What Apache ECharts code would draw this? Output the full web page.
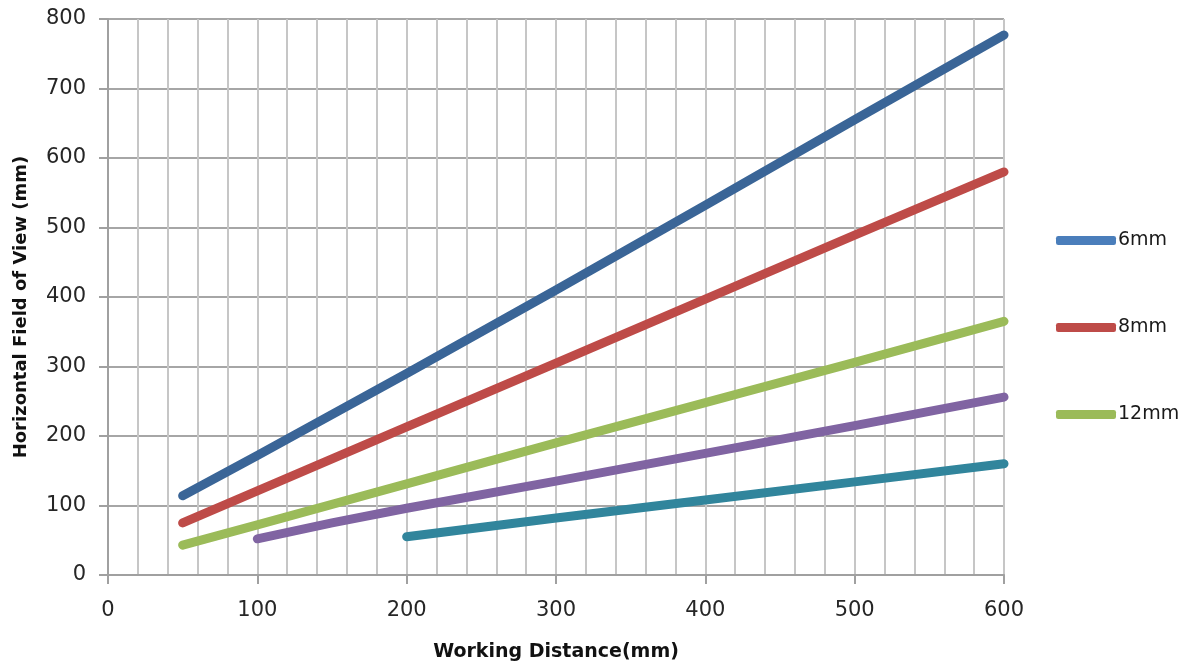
<!DOCTYPE html>
<html>
<head>
<meta charset="utf-8">
<script src="https://cdn.jsdelivr.net/npm/echarts@6/dist/echarts.min.js"></script>
<style>html,body{margin:0;padding:0;background:#fff}#c{width:1197px;height:664px}</style>
</head>
<body>
<div id="c"></div>
<script>
// Working distance (mm) and horizontal field of view (mm) per lens
var wd6 = [50, 100, 200, 300, 400, 500, 600];
var fov6 = [114, 172, 290, 410, 532, 655, 777];
var wd8 = [50, 100, 200, 300, 400, 500, 600];
var fov8 = [75, 121, 213, 305, 397, 489, 580];
var wd12 = [50, 100, 200, 300, 400, 500, 600];
var fov12 = [43, 72, 131, 190, 248, 306, 365];
var wd16 = [100, 150, 200, 300, 400, 500, 600];
var fov16 = [52, 75, 96, 135, 175, 215, 256];
var wd25 = [200, 300, 400, 500, 600];
var fov25 = [55, 82, 108, 134, 160];
var legendNames = ['6mm', '8mm', '12mm'];
var xTitle = 'Working Distance(mm)';
var yTitle = 'Horizontal Field of View (mm)';

function pairs(xs, ys) { return xs.map(function (x, i) { return [x, ys[i]]; }); }

function mk(name, xs, ys, color, lineColor) {
  return {
    name: name, type: 'line', data: pairs(xs, ys), showSymbol: false, symbol: 'none',
    itemStyle: { color: color },
    lineStyle: { color: lineColor, width: 9, cap: 'round', join: 'round' },
    emphasis: { disabled: true }, silent: true, animation: false
  };
}

var chart = echarts.init(document.getElementById('c'), null, { renderer: 'canvas' });
chart.setOption({
  animation: false,
  backgroundColor: '#ffffff',
  grid: { left: 108, right: 193, top: 19, bottom: 89, containLabel: false, outerBoundsMode: 'none' },
  legend: {
    data: legendNames, orient: 'vertical', left: 1051, top: 226,
    icon: 'roundRect', itemWidth: 60, itemHeight: 9, itemGap: 68,
    textStyle: { fontFamily: 'DejaVu Sans', fontSize: 19, color: '#1a1a1a', padding: [0, 0, 0, -3] }
  },
  xAxis: {
    type: 'value', min: 0, max: 600, interval: 100,
    name: xTitle, nameLocation: 'middle', nameGap: 68,
    nameTextStyle: { fontFamily: 'DejaVu Sans', fontWeight: 'bold', fontSize: 19, color: '#111' },
    axisLine: { show: true, lineStyle: { color: '#A0A0A0', width: 2 } },
    axisTick: { show: true, length: 9, lineStyle: { color: '#A0A0A0', width: 2 } },
    axisLabel: { margin: 25, fontFamily: 'DejaVu Sans', fontSize: 21, color: '#262626' },
    splitLine: { show: true, lineStyle: { color: '#C6C6C6', width: 2 } },
    minorTick: { show: false, splitNumber: 5 },
    minorSplitLine: { show: true, lineStyle: { color: '#C6C6C6', width: 2 } }
  },
  yAxis: {
    type: 'value', min: 0, max: 800, interval: 100,
    name: yTitle, nameLocation: 'middle', nameGap: 78,
    nameTextStyle: { fontFamily: 'DejaVu Sans', fontWeight: 'bold', fontSize: 18, color: '#111', padding: [0, 20, 0, 0] },
    axisLine: { show: true, lineStyle: { color: '#A0A0A0', width: 2 } },
    axisTick: { show: true, length: 9, lineStyle: { color: '#A0A0A0', width: 2 } },
    axisLabel: { margin: 22, fontFamily: 'DejaVu Sans', fontSize: 21, color: '#262626' },
    splitLine: { show: true, lineStyle: { color: '#A6A6A6', width: 2 } }
  },
  series: [
    mk('6mm', wd6, fov6, '#4A7EBB', '#3A6597'),
    mk('8mm', wd8, fov8, '#BE4B48', '#BE4B48'),
    mk('12mm', wd12, fov12, '#9BBB59', '#9BBB59'),
    mk('16mm', wd16, fov16, '#8064A2', '#8064A2'),
    mk('25mm', wd25, fov25, '#31859C', '#31859C')
  ]
});
</script>
</body>
</html>
